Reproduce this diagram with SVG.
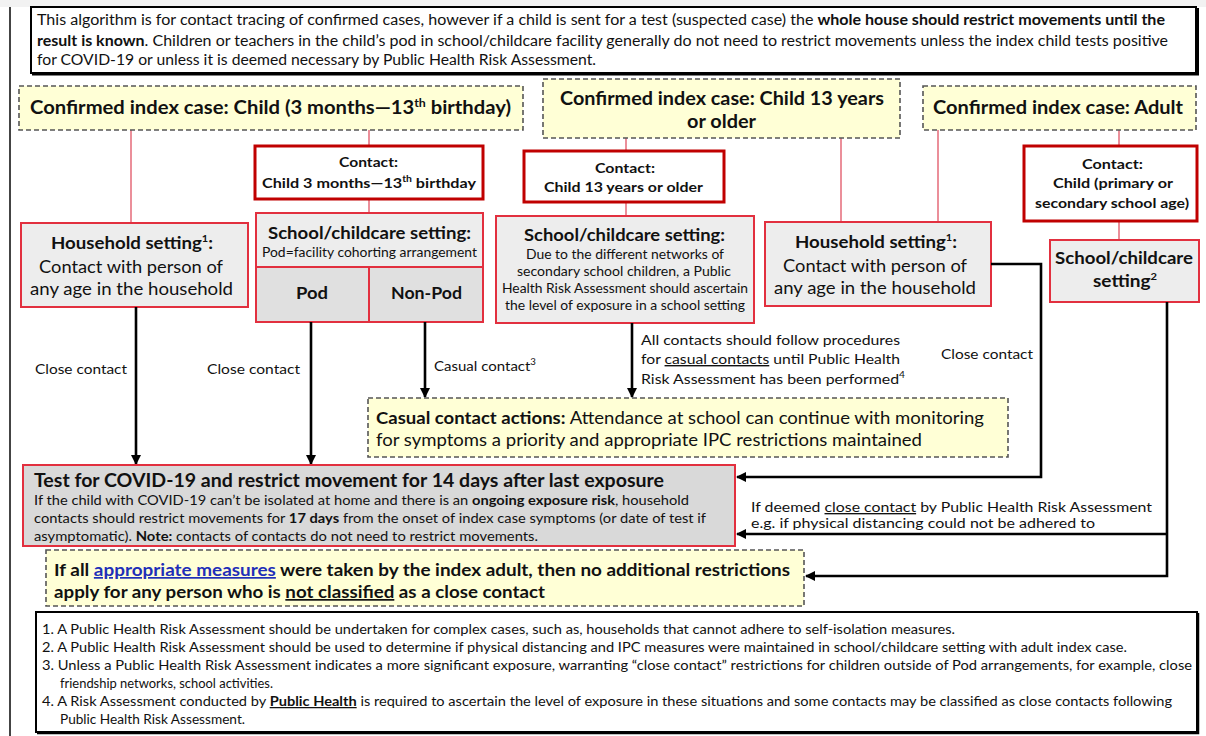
<svg xmlns="http://www.w3.org/2000/svg" width="1206" height="736" viewBox="0 0 1206 736">
  <style>
    text { font-family: Lato, "Open Sans", "Liberation Sans", sans-serif; fill: #111; }
    .b { font-weight: bold; }
    .note { fill: #fff; stroke: #000; stroke-width: 2; }
    .index { fill: #FFFFD6; stroke: #555; stroke-width: 1.6; stroke-dasharray: 5 3; }
    .contact { fill: #fff; stroke: #C00000; stroke-width: 3; }
    .setting { fill: #EDEDED; stroke: #E2303F; stroke-width: 2; }
    .split { fill: #E0E0E0; stroke: #E2303F; stroke-width: 2; }
    .test { fill: #D9D9D9; stroke: #E2303F; stroke-width: 2; }
    .link { fill: none; stroke: #E46A78; stroke-width: 1.5; }
    .flow { fill: none; stroke: #000; stroke-width: 2.6; }
    .t13 { font-size: 13px; }
    .t14 { font-size: 14px; }
    .t17 { font-size: 17px; }
    .t18 { font-size: 18px; }
  </style>
  <defs>
    <marker id="arrow" viewBox="0 0 10 10" refX="9" refY="5" markerWidth="10" markerHeight="10" markerUnits="userSpaceOnUse" orient="auto">
      <path d="M0,0 L10,5 L0,10 Z" fill="#000"/>
    </marker>
  </defs>

  <!-- page background and left margin rule -->
  <rect x="0" y="0" width="1206" height="736" fill="#fff"/>
  <rect x="0" y="0" width="1206" height="7" fill="#F2F2F2"/>
  <line x1="10" y1="7" x2="10" y2="736" stroke="#444" stroke-width="2"/>

  <!-- introductory note -->
  <g id="intro-note">
    <rect class="note" x="31" y="7" width="1165" height="66"/>
    <path d="M32 74.5 H1198 V8" fill="none" stroke="#000" stroke-width="2"/>
    <text x="37" y="25" font-size="14.5" textLength="1128" lengthAdjust="spacingAndGlyphs">This algorithm is for contact tracing of confirmed cases, however if a child is sent for a test (suspected case) the <tspan class="b">whole house should restrict movements until the</tspan></text>
    <text x="37" y="46" font-size="14.5" textLength="1131" lengthAdjust="spacingAndGlyphs"><tspan class="b">result is known</tspan>. Children or teachers in the child’s pod in school/childcare facility generally do not need to restrict movements unless the index child tests positive</text>
    <text x="37" y="65" font-size="14.5" textLength="559" lengthAdjust="spacingAndGlyphs">for COVID-19 or unless it is deemed necessary by Public Health Risk Assessment.</text>
  </g>

  <!-- thin links from index cases to contacts/settings -->
  <g id="links">
    <line class="link" x1="131" y1="130" x2="131" y2="223"/>
    <line class="link" x1="369" y1="130" x2="369" y2="146"/>
    <line class="link" x1="369" y1="199" x2="369" y2="213"/>
    <line class="link" x1="626" y1="138" x2="626" y2="151"/>
    <line class="link" x1="626" y1="202" x2="626" y2="216"/>
    <line class="link" x1="841" y1="138" x2="841" y2="222"/>
    <line class="link" x1="938" y1="130" x2="938" y2="222"/>
    <line class="link" x1="1119" y1="130" x2="1119" y2="146"/>
    <line class="link" x1="1119" y1="221" x2="1119" y2="240"/>
  </g>

  <!-- index case headers -->
  <g id="index-child-young">
    <rect class="index" x="19" y="86" width="504" height="44"/>
    <text class="b t18" x="30" y="114" textLength="481" lengthAdjust="spacingAndGlyphs">Confirmed index case: Child (3 months—13<tspan dy="-7" font-size="11">th</tspan><tspan dy="7"> birthday)</tspan></text>
  </g>
  <g id="index-child-older">
    <rect class="index" x="543" y="79" width="357" height="59"/>
    <text class="b t18" x="560" y="105" textLength="324" lengthAdjust="spacingAndGlyphs">Confirmed index case: Child 13 years</text>
    <text class="b t18" x="687" y="128" textLength="69" lengthAdjust="spacingAndGlyphs">or older</text>
  </g>
  <g id="index-adult">
    <rect class="index" x="923" y="86" width="273" height="44"/>
    <text class="b t18" x="933" y="114" textLength="250" lengthAdjust="spacingAndGlyphs">Confirmed index case: Adult</text>
  </g>

  <!-- contact boxes -->
  <g id="contact-child-young">
    <rect class="contact" x="255" y="146" width="228" height="53"/>
    <text class="b t14" x="339" y="167" textLength="59" lengthAdjust="spacingAndGlyphs">Contact:</text>
    <text class="b t14" x="262" y="188" textLength="214" lengthAdjust="spacingAndGlyphs">Child 3 months—13<tspan dy="-6" font-size="9">th</tspan><tspan dy="6"> birthday</tspan></text>
  </g>
  <g id="contact-child-older">
    <rect class="contact" x="524" y="151" width="200" height="51"/>
    <text class="b t14" x="595" y="173" textLength="60" lengthAdjust="spacingAndGlyphs">Contact:</text>
    <text class="b t14" x="544" y="192" textLength="159" lengthAdjust="spacingAndGlyphs">Child 13 years or older</text>
  </g>
  <g id="contact-child-school">
    <rect class="contact" x="1024" y="146" width="173" height="75"/>
    <text class="b t14" x="1082" y="169" textLength="61" lengthAdjust="spacingAndGlyphs">Contact:</text>
    <text class="b t14" x="1053" y="188" textLength="120" lengthAdjust="spacingAndGlyphs">Child (primary or</text>
    <text class="b t14" x="1035" y="208" textLength="154" lengthAdjust="spacingAndGlyphs">secondary school age)</text>
  </g>

  <!-- setting boxes -->
  <g id="household-young">
    <rect class="setting" x="21" y="223" width="227" height="84"/>
    <text class="b t17" x="51" y="249" textLength="162" lengthAdjust="spacingAndGlyphs">Household setting<tspan dy="-7" font-size="10">1</tspan><tspan dy="7">:</tspan></text>
    <text class="t17" x="39" y="273" textLength="184" lengthAdjust="spacingAndGlyphs">Contact with person of</text>
    <text class="t17" x="30" y="295" textLength="203" lengthAdjust="spacingAndGlyphs">any age in the household</text>
  </g>
  <g id="school-young">
    <rect class="setting" x="256" y="213" width="227" height="54"/>
    <text class="b t17" x="268" y="239" textLength="203" lengthAdjust="spacingAndGlyphs">School/childcare setting:</text>
    <text x="262" y="257" font-size="12.5" textLength="215" lengthAdjust="spacingAndGlyphs">Pod=facility cohorting arrangement</text>
  </g>
  <g id="pod">
    <rect class="split" x="256" y="267" width="113" height="55"/>
    <text class="b t17" x="296" y="299" textLength="32" lengthAdjust="spacingAndGlyphs">Pod</text>
  </g>
  <g id="non-pod">
    <rect class="split" x="369" y="267" width="114" height="55"/>
    <text class="b t17" x="391" y="299" textLength="71" lengthAdjust="spacingAndGlyphs">Non-Pod</text>
  </g>
  <g id="school-older">
    <rect class="setting" x="496" y="216" width="258" height="107"/>
    <text class="b t17" x="524" y="241" textLength="201" lengthAdjust="spacingAndGlyphs">School/childcare setting:</text>
    <text x="526" y="259" font-size="12.5" textLength="198" lengthAdjust="spacingAndGlyphs">Due to the different networks of</text>
    <text x="517" y="276" font-size="12.5" textLength="214" lengthAdjust="spacingAndGlyphs">secondary school children, a Public</text>
    <text x="502" y="293" font-size="12.5" textLength="246" lengthAdjust="spacingAndGlyphs">Health Risk Assessment should ascertain</text>
    <text x="505" y="310" font-size="12.5" textLength="240" lengthAdjust="spacingAndGlyphs">the level of exposure in a school setting</text>
  </g>
  <g id="household-shared">
    <rect class="setting" x="765" y="222" width="226" height="84"/>
    <text class="b t17" x="795" y="248" textLength="162" lengthAdjust="spacingAndGlyphs">Household setting<tspan dy="-7" font-size="10">1</tspan><tspan dy="7">:</tspan></text>
    <text class="t17" x="783" y="272" textLength="184" lengthAdjust="spacingAndGlyphs">Contact with person of</text>
    <text class="t17" x="774" y="294" textLength="202" lengthAdjust="spacingAndGlyphs">any age in the household</text>
  </g>
  <g id="school-adult">
    <rect class="setting" x="1050" y="240" width="149" height="62"/>
    <text class="b t17" x="1055" y="264" textLength="138" lengthAdjust="spacingAndGlyphs">School/childcare</text>
    <text class="b t17" x="1093" y="287" textLength="64" lengthAdjust="spacingAndGlyphs">setting<tspan dy="-7" font-size="10">2</tspan></text>
  </g>

  <!-- flow arrows -->
  <g id="connectors">
    <line class="flow" x1="136" y1="307" x2="136" y2="464" marker-end="url(#arrow)"/>
    <line class="flow" x1="311" y1="322" x2="311" y2="464" marker-end="url(#arrow)"/>
    <line class="flow" x1="425" y1="322" x2="425" y2="397" marker-end="url(#arrow)"/>
    <line class="flow" x1="632" y1="323" x2="632" y2="397" marker-end="url(#arrow)"/>
    <path class="flow" d="M991 264 H1041 V477 H737" marker-end="url(#arrow)"/>
    <path class="flow" d="M1167 302 V576 H806" marker-end="url(#arrow)"/>
    <path class="flow" d="M1167 534 H737" marker-end="url(#arrow)"/>
  </g>

  <!-- connector labels -->
  <g id="labels">
    <text class="t14" x="35" y="374" textLength="92" lengthAdjust="spacingAndGlyphs">Close contact</text>
    <text class="t14" x="207" y="374" textLength="93" lengthAdjust="spacingAndGlyphs">Close contact</text>
    <text class="t14" x="434" y="371" textLength="102" lengthAdjust="spacingAndGlyphs">Casual contact<tspan dy="-6" font-size="9">3</tspan></text>
    <text class="t14" x="641" y="345" textLength="259" lengthAdjust="spacingAndGlyphs">All contacts should follow procedures</text>
    <text class="t14" x="641" y="364" textLength="259" lengthAdjust="spacingAndGlyphs">for <tspan text-decoration="underline">casual contacts</tspan> until Public Health</text>
    <text class="t14" x="641" y="384" textLength="264" lengthAdjust="spacingAndGlyphs">Risk Assessment has been performed<tspan dy="-6" font-size="9">4</tspan></text>
    <text class="t14" x="941" y="359" textLength="92" lengthAdjust="spacingAndGlyphs">Close contact</text>
    <text x="751" y="512" font-size="13.5" textLength="401" lengthAdjust="spacingAndGlyphs">If deemed <tspan text-decoration="underline">close contact</tspan> by Public Health Risk Assessment</text>
    <text x="751" y="528" font-size="13.5" textLength="344" lengthAdjust="spacingAndGlyphs">e.g. if physical distancing could not be adhered to</text>
  </g>

  <!-- casual contact actions -->
  <g id="casual-actions">
    <rect class="index" x="368" y="398" width="640" height="59"/>
    <text class="t17" x="376" y="424" textLength="608" lengthAdjust="spacingAndGlyphs"><tspan class="b">Casual contact actions:</tspan> Attendance at school can continue with monitoring</text>
    <text class="t17" x="376" y="446" textLength="546" lengthAdjust="spacingAndGlyphs">for symptoms a priority and appropriate IPC restrictions maintained</text>
  </g>

  <!-- test and restrict -->
  <g id="test-restrict">
    <rect class="test" x="23" y="465" width="712" height="81"/>
    <text class="b t18" x="34" y="487" textLength="630" lengthAdjust="spacingAndGlyphs">Test for COVID-19 and restrict movement for 14 days after last exposure</text>
    <text class="t13" x="34" y="505" textLength="655" lengthAdjust="spacingAndGlyphs">If the child with COVID-19 can’t be isolated at home and there is an <tspan class="b">ongoing exposure risk</tspan>,  household</text>
    <text class="t13" x="34" y="523" textLength="672" lengthAdjust="spacingAndGlyphs">contacts should restrict movements for <tspan class="b">17 days</tspan> from the onset of index case symptoms (or date of test if</text>
    <text class="t13" x="34" y="541" textLength="504" lengthAdjust="spacingAndGlyphs">asymptomatic). <tspan class="b">Note:</tspan> contacts of contacts do not need to restrict movements.</text>
  </g>

  <!-- adult index measures -->
  <g id="adult-measures">
    <rect class="index" x="46" y="550" width="758" height="56"/>
    <text class="b t17" x="54" y="576" textLength="736" lengthAdjust="spacingAndGlyphs">If all <tspan fill="#1F2FB8" text-decoration="underline">appropriate measures</tspan> were taken by the index adult, then no additional restrictions</text>
    <text class="b t17" x="54" y="598" textLength="491" lengthAdjust="spacingAndGlyphs">apply for any person who is <tspan text-decoration="underline">not classified</tspan> as a close contact</text>
  </g>

  <!-- footnotes -->
  <g id="footnotes">
    <rect class="note" x="36" y="612" width="1161" height="120"/>
    <path d="M37 733.5 H1198.5 V613" fill="none" stroke="#000" stroke-width="1.5"/>
    <text x="42" y="634" font-size="12.5" textLength="913" lengthAdjust="spacingAndGlyphs">1. A Public Health Risk Assessment should be undertaken for complex cases, such as, households that cannot adhere to self-isolation measures.</text>
    <text x="42" y="652" font-size="12.5" textLength="1085" lengthAdjust="spacingAndGlyphs">2. A Public Health Risk Assessment should be used to determine if physical distancing and IPC measures were maintained in school/childcare setting with adult index case.</text>
    <text x="42" y="670" font-size="12.5" textLength="1150" lengthAdjust="spacingAndGlyphs">3. Unless a Public Health Risk Assessment indicates a more significant exposure, warranting “close contact” restrictions for children outside of Pod arrangements, for example, close</text>
    <text x="60" y="688" font-size="12.5" textLength="213" lengthAdjust="spacingAndGlyphs">friendship networks, school activities.</text>
    <text x="42" y="706" font-size="12.5" textLength="1130" lengthAdjust="spacingAndGlyphs">4. A Risk Assessment conducted by <tspan class="b" text-decoration="underline">Public Health</tspan> is required to ascertain the level of exposure in these situations and some contacts may be classified as close contacts following</text>
    <text x="60" y="724" font-size="12.5" textLength="185" lengthAdjust="spacingAndGlyphs">Public Health Risk Assessment.</text>
  </g>
</svg>
